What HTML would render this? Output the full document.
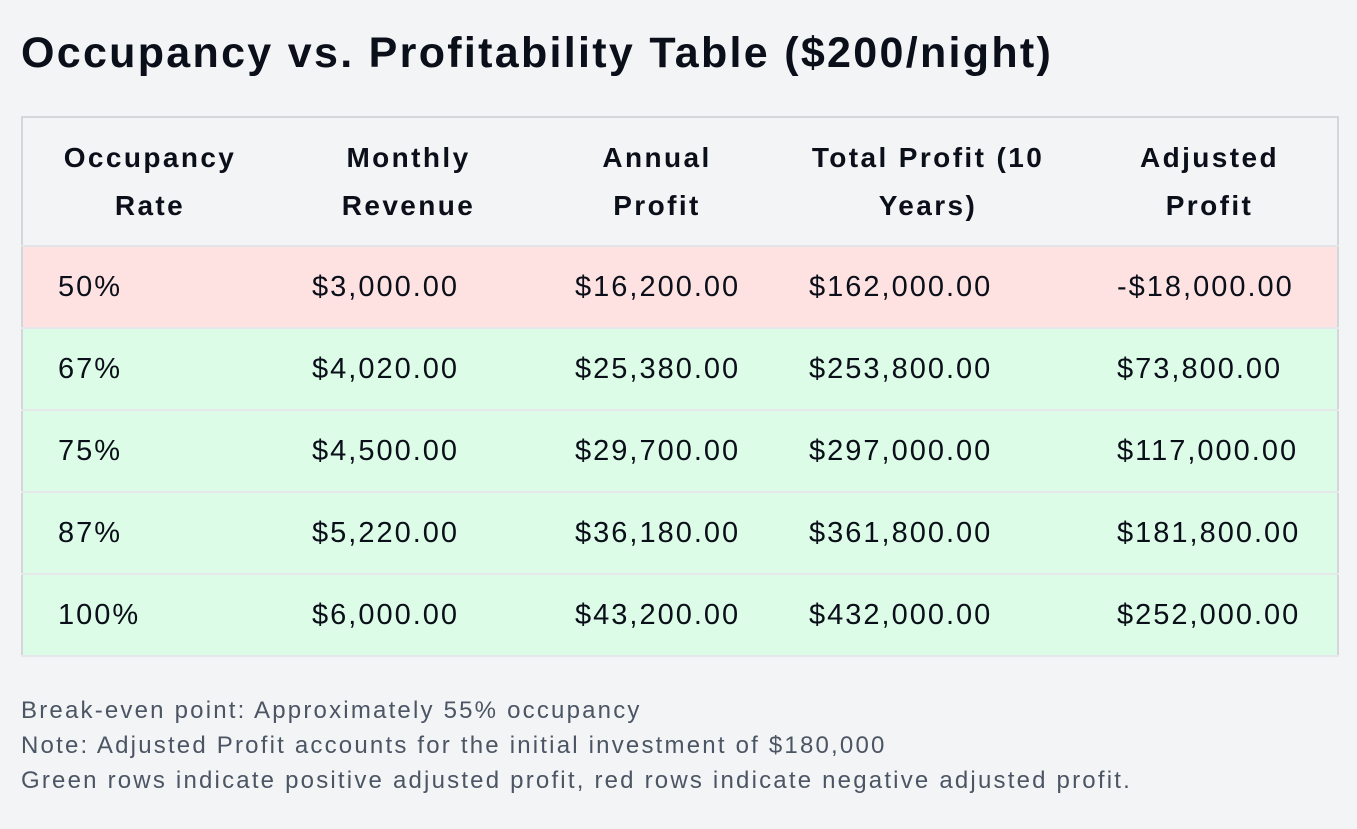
<!DOCTYPE html>
<html><head><meta charset="utf-8"><style>
html,body{margin:0;padding:0;background:#f3f4f6;width:1357px;height:829px;overflow:hidden;font-family:"Liberation Sans",Arial,sans-serif;color:#0b0f19}
h1{position:absolute;left:21px;top:23px;margin:0;font-size:43px;font-weight:bold;line-height:60px;letter-spacing:2.3px;white-space:nowrap}
table{position:absolute;left:21px;top:116px;width:1316px;border-collapse:collapse;border:2px solid #d4d6dc;table-layout:fixed}
th{font-size:28px;font-weight:bold;line-height:48px;height:127px;padding:0;text-align:center;border-bottom:2px solid #e2e4e8;letter-spacing:2.4px;white-space:nowrap}
td{font-size:29px;height:80px;padding:0 0 0 35px;text-align:left;border-bottom:2px solid #e5e7eb;letter-spacing:2px;white-space:nowrap}
tr.neg td{background:#fee2e2}
tr.pos td{background:#dcfce7}
.notes{position:absolute;left:21px;top:693px;font-size:24px;line-height:35px;color:#4b5563;letter-spacing:2.2px;white-space:nowrap}
</style></head><body>
<h1>Occupancy vs. Profitability Table ($200/night)</h1>
<table>
<colgroup><col style="width:255px"><col style="width:263px"><col style="width:234px"><col style="width:308px"><col style="width:256px"></colgroup>
<tr><th>Occupancy<br>Rate</th><th>Monthly<br>Revenue</th><th>Annual<br>Profit</th><th>Total Profit (10<br>Years)</th><th>Adjusted<br>Profit</th></tr>
<tr class="neg"><td>50%</td><td>$3,000.00</td><td>$16,200.00</td><td>$162,000.00</td><td>-$18,000.00</td></tr>
<tr class="pos"><td>67%</td><td>$4,020.00</td><td>$25,380.00</td><td>$253,800.00</td><td>$73,800.00</td></tr>
<tr class="pos"><td>75%</td><td>$4,500.00</td><td>$29,700.00</td><td>$297,000.00</td><td>$117,000.00</td></tr>
<tr class="pos"><td>87%</td><td>$5,220.00</td><td>$36,180.00</td><td>$361,800.00</td><td>$181,800.00</td></tr>
<tr class="pos"><td>100%</td><td>$6,000.00</td><td>$43,200.00</td><td>$432,000.00</td><td>$252,000.00</td></tr>
</table>
<div class="notes">
<div>Break-even point: Approximately 55% occupancy</div>
<div>Note: Adjusted Profit accounts for the initial investment of $180,000</div>
<div>Green rows indicate positive adjusted profit, red rows indicate negative adjusted profit.</div>
</div>
</body></html>
